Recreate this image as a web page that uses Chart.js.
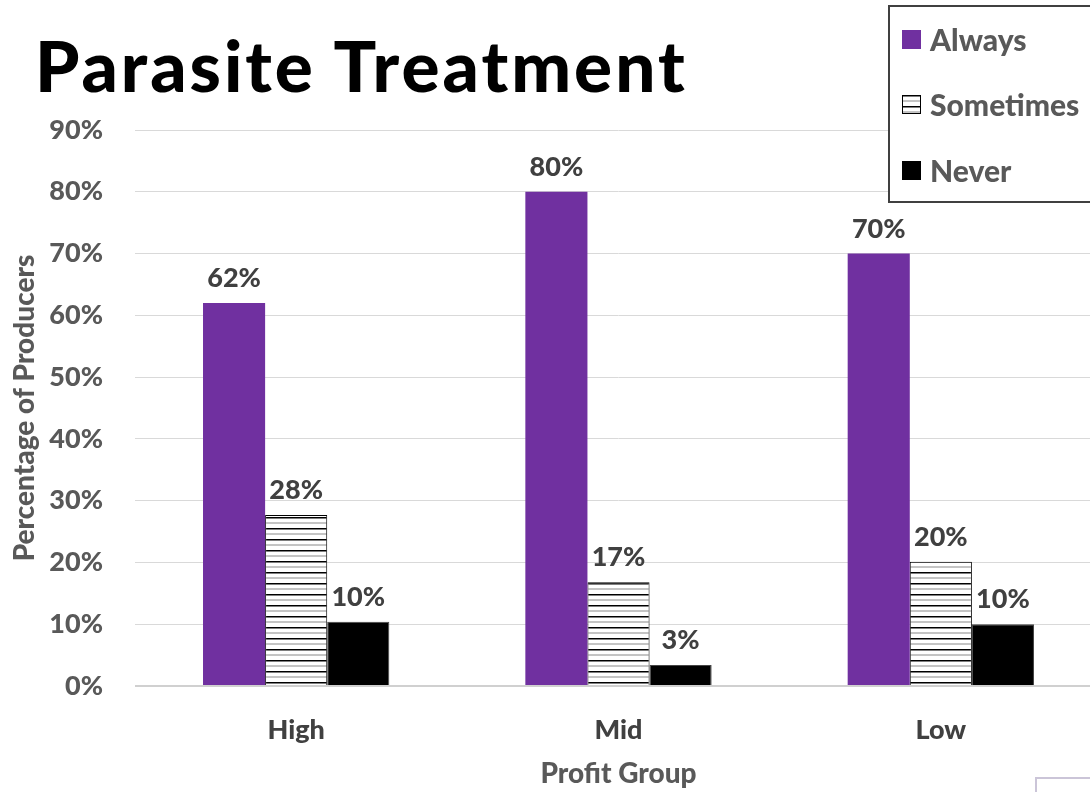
<!DOCTYPE html>
<html>
<head>
<meta charset="utf-8">
<script src="https://cdn.jsdelivr.net/npm/chart.js@4.4.0/dist/chart.umd.min.js"></script>
<style>
  html, body { margin: 0; padding: 0; background: #fff; overflow: hidden; width: 1090px; height: 792px; }
  #wrap { position: absolute; left: 0; top: 0; width: 1102px; height: 792px; }
  #title { position: absolute; left: 35px; top: 29px; font: 900 71px Lato, sans-serif; line-height: 1; color: #000; white-space: nowrap; letter-spacing: 3px; }
  #legend { position: absolute; left: 888px; top: 5px; width: 230px; height: 194px; border: 2px solid #404040; background: #fff; }
  .item { position: absolute; left: 12px; height: 34px; display: flex; align-items: center; font: 900 30px Lato, sans-serif; color: #595959; white-space: nowrap; }
  .item canvas { margin-right: 9px; }
  #corner { position: absolute; left: 1035px; top: 777px; width: 100px; height: 40px; border: 2px solid #cbc5d8; }
</style>
</head>
<body>
<div id="wrap"><canvas id="myChart" width="1102" height="792"></canvas></div>
<div id="title">Parasite Treatment</div>
<div id="legend"></div>
<div id="corner"></div>
<script>
// chart data
const categories = ['High', 'Mid', 'Low'];
const seriesNames = ['Always', 'Sometimes', 'Never'];
const alwaysValues = [62, 80, 70];
const sometimesValues = [27.7, 16.8, 20.1];
const neverValues = [10.4, 3.4, 10.0];
const yMax = 90;
const yStep = 10;

const labelFont = { family: 'Lato', size: 27, weight: '900' };

// horizontal hatch used for "Sometimes"
function makeHatch() {
    const c = document.createElement('canvas');
    c.width = 8;
    c.height = 11;
    const g = c.getContext('2d');
    g.fillStyle = '#fff';
    g.fillRect(0, 0, 8, 11);
    g.fillStyle = '#000';
    g.fillRect(0, 0, 8, 1.5);
    g.fillStyle = '#8a8a8a';
    g.fillRect(0, 5.5, 8, 1);
    return document.getElementById('myChart').getContext('2d').createPattern(c, 'repeat');
}
const hatch = makeHatch();

// value labels above bars
const barLabels = {
    id: 'barLabels',
    afterDatasetsDraw(chart) {
        const ctx = chart.ctx;
        ctx.save();
        ctx.font = '900 27px Lato';
        ctx.fillStyle = '#404040';
        ctx.textAlign = 'center';
        ctx.textBaseline = 'alphabetic';
        chart.data.datasets.forEach((ds, i) => {
            chart.getDatasetMeta(i).data.forEach((bar, j) => {
                ctx.fillText(Math.round(ds.data[j]) + '%', bar.x, bar.y - 16);
            });
        });
        ctx.restore();
    }
};

const ctx = document.getElementById('myChart').getContext('2d');
const chart = new Chart(ctx, {
    type: 'bar',
    data: {
        labels: categories,
        datasets: [
            { label: seriesNames[0], data: alwaysValues, backgroundColor: '#7030A0', borderColor: '#7030A0', borderWidth: 0 },
            { label: seriesNames[1], data: sometimesValues, backgroundColor: hatch, borderColor: '#000', borderWidth: 1 },
            { label: seriesNames[2], data: neverValues, backgroundColor: '#000', borderColor: '#444', borderWidth: 1 }
        ]
    },
    options: {
        responsive: false,
        animation: false,
        events: [],
        categoryPercentage: 0.578,
        barPercentage: 1.0,
        layout: { padding: { top: 130, left: 0, right: 0, bottom: 0 } },
        plugins: { legend: { display: false }, tooltip: { enabled: false } },
        scales: {
            x: {
                grid: { display: false, drawTicks: false },
                border: { display: false },
                ticks: { color: '#404040', font: labelFont, padding: 28 },
                title: { display: true, text: 'Profit Group', color: '#595959', font: { family: 'Lato', size: 28, weight: '900' }, padding: { top: 0, bottom: 1 } },
                afterFit(scale) { scale.height = 106; }
            },
            y: {
                min: 0,
                max: yMax,
                grid: {
                    drawTicks: false,
                    color: c => c.tick && c.tick.value === 0 ? '#d0d0d0' : '#d9d9d9',
                    lineWidth: c => c.tick && c.tick.value === 0 ? 2 : 1
                },
                border: { display: false },
                ticks: {
                    stepSize: yStep,
                    padding: 32,
                    color: '#595959',
                    font: labelFont,
                    callback: v => v + '%'
                },
                title: { display: true, text: 'Percentage of Producers', color: '#595959', font: { family: 'Lato', size: 28, weight: '900' }, padding: { top: 8, bottom: 0 } },
                afterFit(scale) { scale.width = 135; }
            }
        }
    },
    plugins: [barLabels]
});

// legend built from datasets
const legend = document.getElementById('legend');
const rowCenters = [32, 97, 163];
chart.data.datasets.forEach((ds, i) => {
    const item = document.createElement('div');
    item.className = 'item';
    item.style.top = (rowCenters[i] - 17) + 'px';
    const sw = document.createElement('canvas');
    sw.width = 19;
    sw.height = 19;
    const g = sw.getContext('2d');
    g.fillStyle = ds.backgroundColor;
    g.fillRect(0, 0, 19, 19);
    if (i === 1) {
        g.strokeStyle = '#000';
        g.lineWidth = 1;
        g.strokeRect(0.5, 0.5, 18, 18);
    }
    item.appendChild(sw);
    item.appendChild(document.createTextNode(ds.label));
    legend.appendChild(item);
});
</script>
</body>
</html>
